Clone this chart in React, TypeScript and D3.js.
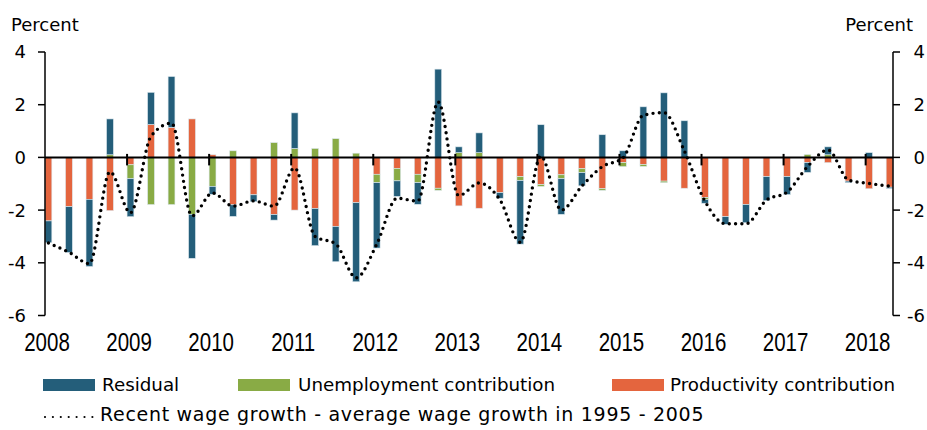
import React, { useEffect, useRef } from "react";
import * as d3 from "d3";

// quarterly, 2008 Q1 .. 2018 Q2
const years = [2008, 2009, 2010, 2011, 2012, 2013, 2014, 2015, 2016, 2017, 2018];
const yTicks = [-6, -4, -2, 0, 2, 4];

const productivity = [
  -2.41, -1.87, -1.59, -2.02, -0.28, 1.25, 1.14, 1.46, 0.1, -1.8, -1.42, -2.17,
  -2.0, -1.94, -2.62, -1.72, -0.64, -0.42, -0.64, -1.17, -1.84, -1.93, -1.34, -0.73,
  -1.03, -0.66, -0.43, -1.19, -0.2, -0.27, -0.9, -1.17, -1.53, -2.25, -1.79, -0.73,
  -0.73, -0.2, -0.2, -0.9, -1.19, -1.13,
];
const unemployment = [
  0, 0, 0, 0.1, -0.53, -1.79, -1.79, -2.16, -1.1, 0.25, 0, 0.56,
  0.34, 0.34, 0.71, 0.16, -0.32, -0.47, -0.32, -0.08, 0.18, 0.18, 0, -0.15,
  -0.07, -0.15, -0.15, -0.06, -0.15, -0.07, -0.06, 0, -0.07, 0, 0, 0,
  0, 0.11, 0.1, 0, 0, 0,
];
const residual = [
  -0.83, -1.74, -2.55, 1.36, -1.44, 1.22, 1.93, -1.67, -0.3, -0.44, -0.26, -0.21,
  1.35, -1.41, -1.34, -3.0, -2.48, -0.59, -0.82, 3.35, 0.22, 0.75, -0.21, -2.41,
  1.24, -1.35, -0.5, 0.86, 0.25, 1.92, 2.45, 1.39, -0.14, -0.29, -0.69, -0.91,
  -0.68, -0.37, 0.3, -0.06, 0.18, -0.05,
];
const wageGap = [
  -3.25, -3.6, -4.03, -0.55, -2.1, 0.8, 1.3, -2.22, -1.35, -1.85, -1.65, -1.85,
  -0.4, -3.0, -3.28, -4.57, -3.3, -1.55, -1.66, 2.1, -1.45, -0.97, -1.6, -3.22,
  0.05, -2.0, -1.09, -0.35, -0.02, 1.6, 1.7, 0.24, -1.66, -2.52, -2.52, -1.62,
  -1.32, -0.35, 0.28, -0.86, -0.99, -1.09,
];

const seriesKeys = ["productivity", "unemployment", "residual"];
const colors = {
  residual: "#245e7a",
  unemployment: "#89ab45",
  productivity: "#e4653e",
};

const W = 927;
const H = 430;
const FONT = "'DejaVu Sans', sans-serif";
const YEAR_FONT = "'Liberation Sans', Arial, sans-serif";

export default function App() {
  const svgRef = useRef(null);

  useEffect(() => {
    const svg = d3.select(svgRef.current);
    svg.selectAll("*").remove();

    // month based axis: Jan 2008 .. end of Apr 2018
    const x = d3.scaleLinear().domain([0, 124]).range([45, 893]);
    const y = d3.scaleLinear().domain([-6, 4]).range([315.5, 52]);

    const table = productivity.map((p, i) => ({
      i,
      productivity: p,
      unemployment: unemployment[i],
      residual: residual[i],
    }));
    const stacked = d3.stack().keys(seriesKeys).offset(d3.stackOffsetDiverging)(table);

    // bars
    stacked.forEach((s) => {
      svg
        .append("g")
        .selectAll("rect")
        .data(s)
        .enter()
        .append("rect")
        .attr("x", (d) => x(d.data.i * 3))
        .attr("width", (d) => x(d.data.i * 3 + 1) - x(d.data.i * 3))
        .attr("y", (d) => y(Math.max(d[0], d[1])))
        .attr("height", (d) => Math.abs(y(d[0]) - y(d[1])))
        .attr("fill", colors[s.key])
        .attr("stroke", "#dce8ee")
        .attr("stroke-width", 0.6);
    });

    // zero line and year ticks
    svg
      .append("line")
      .attr("x1", x(0))
      .attr("x2", x(124))
      .attr("y1", y(0))
      .attr("y2", y(0))
      .attr("stroke", "#000")
      .attr("stroke-width", 2);

    years.forEach((yr, k) => {
      const xp = x(k * 12);
      if (k > 0) {
        svg
          .append("line")
          .attr("x1", xp)
          .attr("x2", xp)
          .attr("y1", y(0) - 3.5)
          .attr("y2", y(0) + 8)
          .attr("stroke", "#000")
          .attr("stroke-width", 2);
      }
      svg
        .append("text")
        .attr("transform", `translate(${xp + 2},351) scale(0.82,1)`)
        .attr("text-anchor", "middle")
        .style("font-family", YEAR_FONT)
        .style("font-size", "25px")
        .attr("fill", "#000")
        .text(yr);
    });

    // wage growth line
    const line = d3
      .line()
      .x((d, i) => x(i * 3 + 0.5))
      .y((d) => y(d))
      .curve(d3.curveMonotoneX);

    svg
      .append("path")
      .datum(wageGap)
      .attr("d", line)
      .attr("fill", "none")
      .attr("stroke", "#000")
      .attr("stroke-width", 3.4)
      .attr("stroke-linecap", "round")
      .attr("stroke-dasharray", "0,6.3");

    // axes
    const axisL = svg.append("g").attr("transform", `translate(${x(0)},0)`);
    axisL
      .append("line")
      .attr("y1", y(-6))
      .attr("y2", y(4))
      .attr("stroke", "#000")
      .attr("stroke-width", 1.5);
    const axisR = svg.append("g").attr("transform", `translate(${x(124)},0)`);
    axisR
      .append("line")
      .attr("y1", y(-6))
      .attr("y2", y(4))
      .attr("stroke", "#000")
      .attr("stroke-width", 1.5);

    yTicks.forEach((t) => {
      axisL
        .append("line")
        .attr("x1", -7)
        .attr("x2", 0)
        .attr("y1", y(t))
        .attr("y2", y(t))
        .attr("stroke", "#000")
        .attr("stroke-width", 1.5);
      axisR
        .append("line")
        .attr("x1", 0)
        .attr("x2", 7)
        .attr("y1", y(t))
        .attr("y2", y(t))
        .attr("stroke", "#000")
        .attr("stroke-width", 1.5);
      svg
        .append("text")
        .attr("x", 26)
        .attr("y", y(t))
        .attr("dy", "0.36em")
        .attr("text-anchor", "end")
        .style("font-family", FONT)
        .style("font-size", "18px")
        .text(t);
      svg
        .append("text")
        .attr("x", 925)
        .attr("y", y(t))
        .attr("dy", "0.36em")
        .attr("text-anchor", "end")
        .style("font-family", FONT)
        .style("font-size", "18px")
        .text(t);
    });

    svg
      .append("text")
      .attr("x", 11)
      .attr("y", 31)
      .style("font-family", FONT)
      .style("font-size", "18px")
      .text("Percent");
    svg
      .append("text")
      .attr("x", 913)
      .attr("y", 31)
      .attr("text-anchor", "end")
      .style("font-family", FONT)
      .style("font-size", "18px")
      .text("Percent");

    // legend
    const legendItems = [
      { key: "residual", label: "Residual", x: 43, tx: 102 },
      { key: "unemployment", label: "Unemployment contribution", x: 238, tx: 298 },
      { key: "productivity", label: "Productivity contribution", x: 612, tx: 670 },
    ];
    legendItems.forEach((it) => {
      svg
        .append("rect")
        .attr("x", it.x)
        .attr("y", 379)
        .attr("width", 52)
        .attr("height", 12)
        .attr("fill", colors[it.key]);
      svg
        .append("text")
        .attr("x", it.tx)
        .attr("y", 391)
        .style("font-family", FONT)
        .style("font-size", "18.3px")
        .text(it.label);
    });
    svg
      .append("path")
      .attr("d", d3.line()([[45, 417], [93, 417]]))
      .attr("stroke", "#000")
      .attr("stroke-width", 2.2)
      .attr("stroke-linecap", "round")
      .attr("stroke-dasharray", "0,7.9");
    svg
      .append("text")
      .attr("x", 100)
      .attr("y", 421)
      .style("font-family", FONT)
      .style("font-size", "19px")
      .style("letter-spacing", "0.7px")
      .text("Recent wage growth - average wage growth in 1995 - 2005");
  }, []);

  return (
    <svg
      ref={svgRef}
      width={W}
      height={H}
      style={{ position: "absolute", left: 0, top: 0, background: "#fff" }}
    />
  );
}
